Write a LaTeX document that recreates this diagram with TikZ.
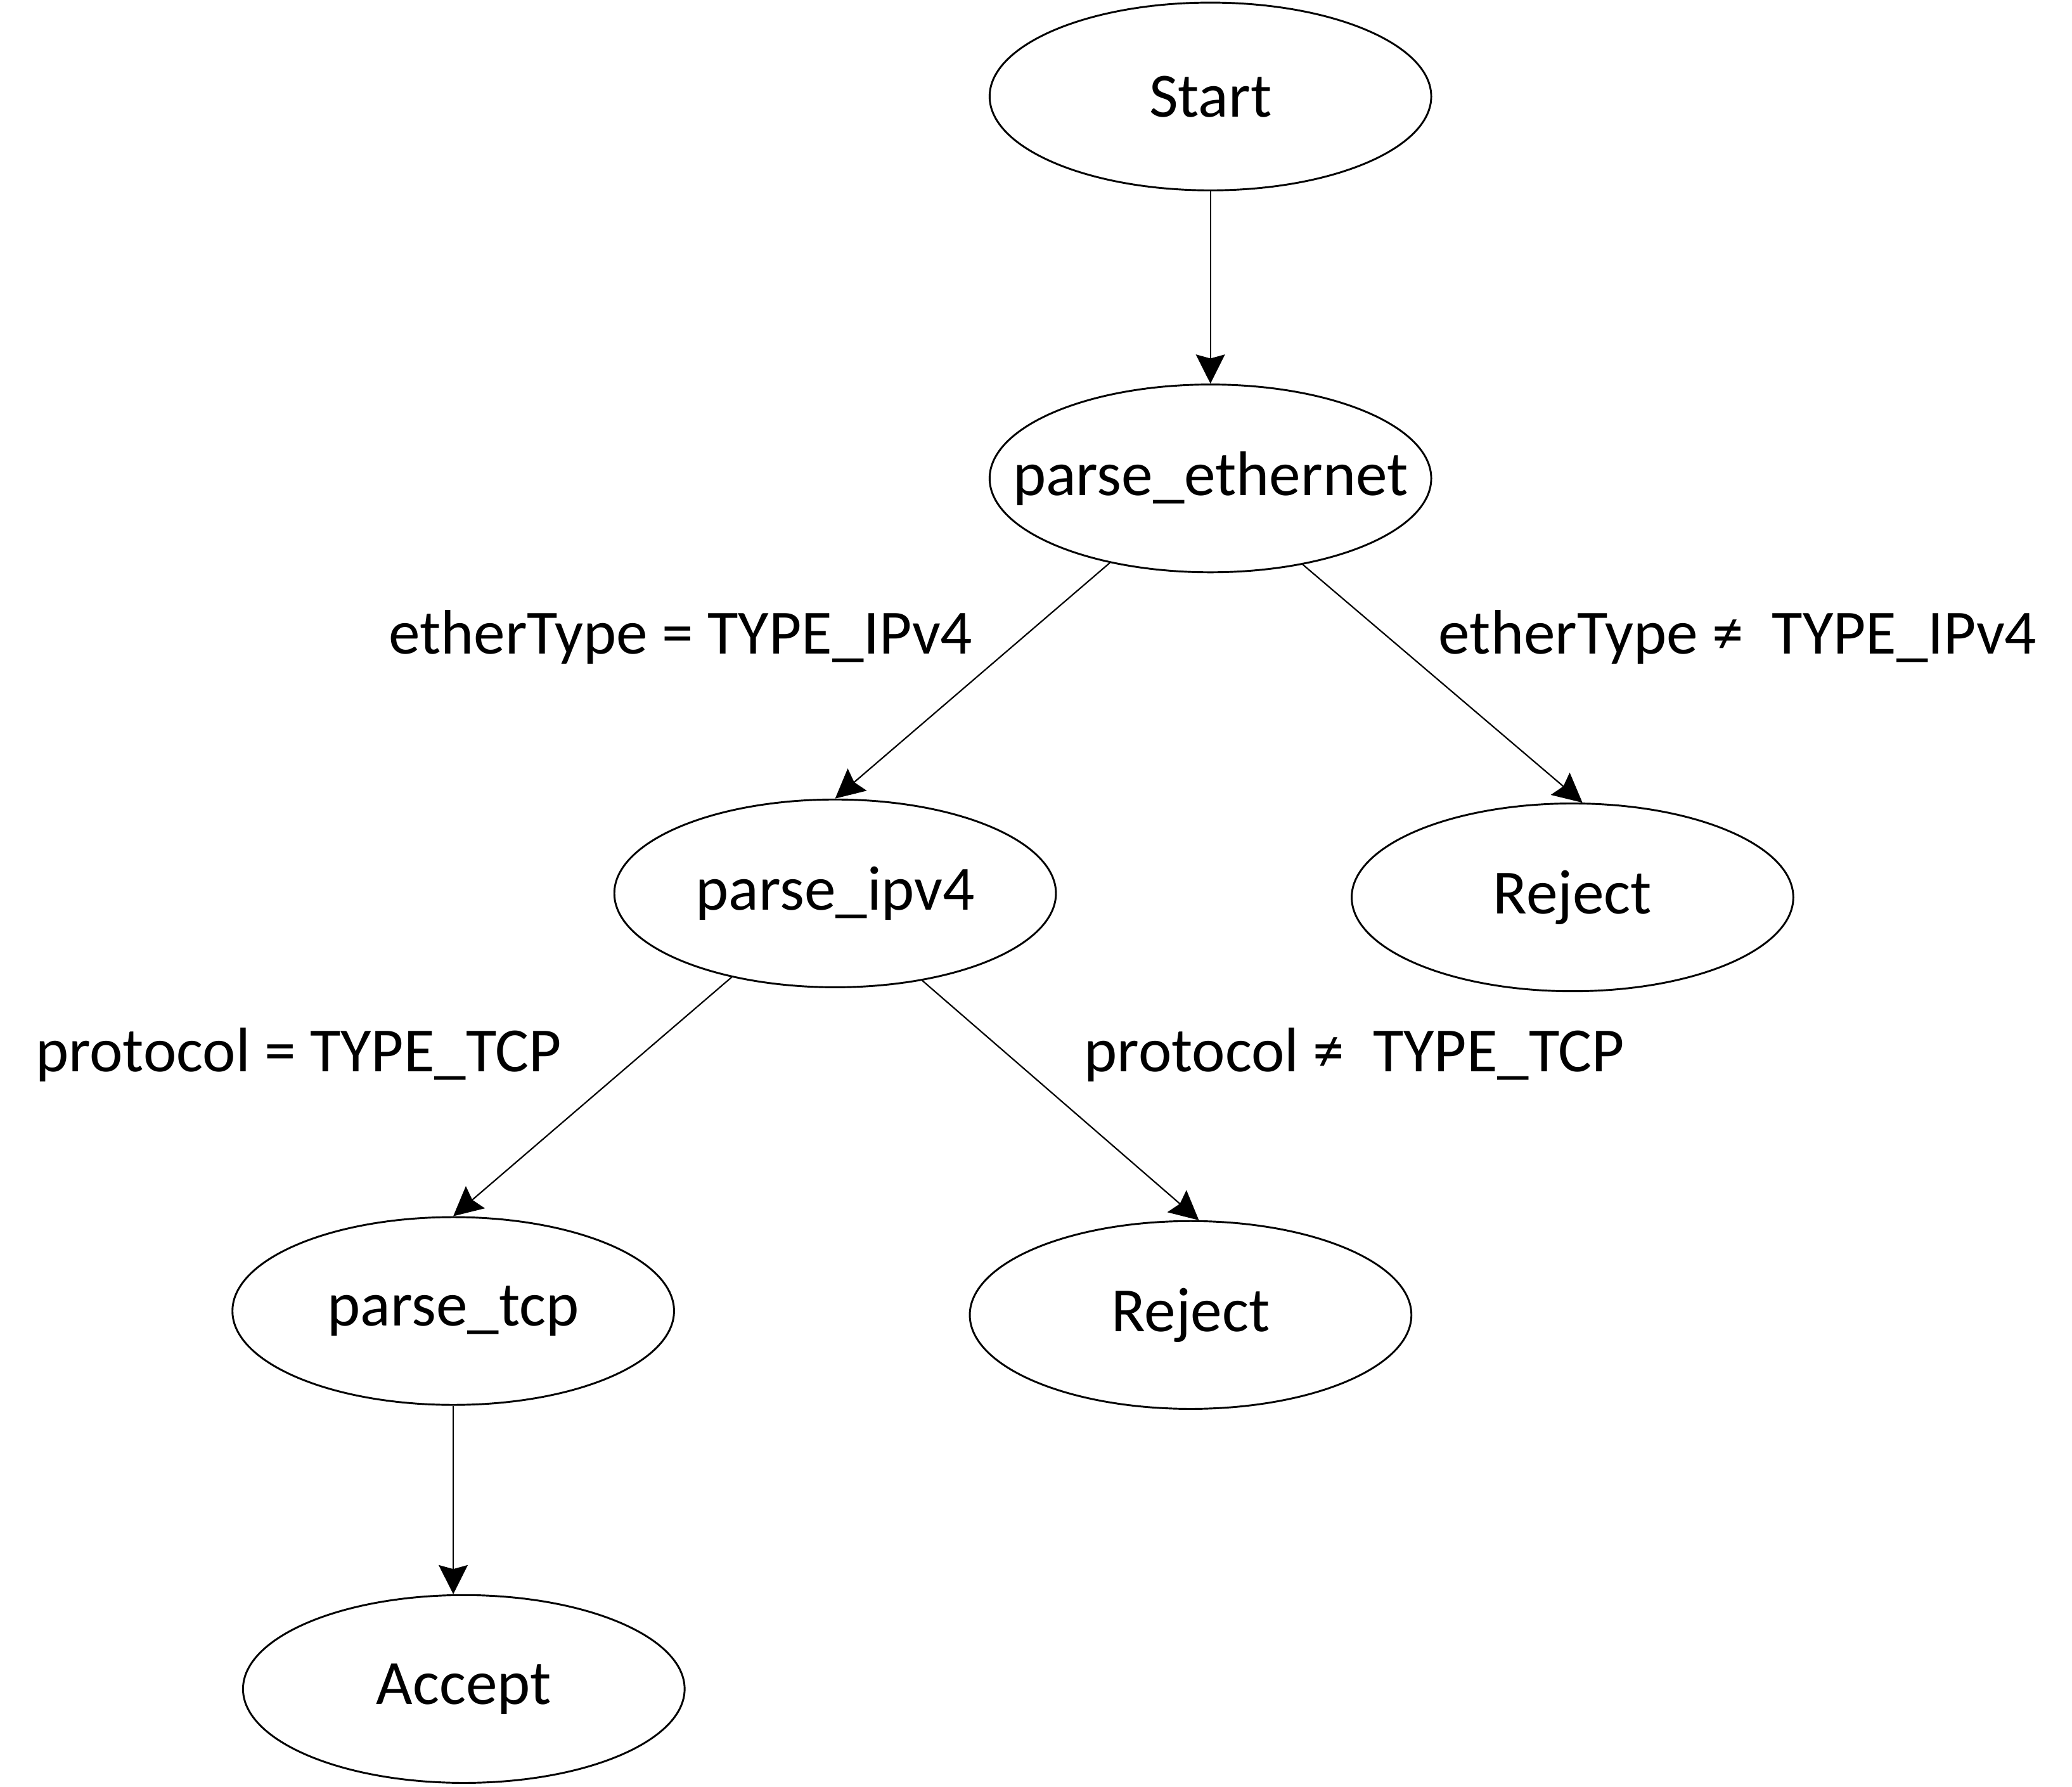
\documentclass[tikz,border=0pt]{standalone}
\usepackage{fontspec}
\setmainfont{Carlito}
\usetikzlibrary{shapes.geometric,arrows.meta}
% keep the label from widening the ellipse
\newcommand\ctext[1]{\makebox[0pt]{#1}}
\begin{document}
\begin{tikzpicture}[x=0.01cm,y=-0.01cm,
  font=\fontsize{13.55}{16}\selectfont,
  state/.style={ellipse,draw,line width=0.4pt,minimum width=3.34cm,minimum height=1.42cm,inner sep=0pt},
  edgelabel/.style={inner sep=0pt},
  flow/.style={line width=0.3pt,-{Stealth[length=0.22cm,width=0.22cm,inset=0.03cm]}}]
\useasboundingbox (0,0) rectangle (1568,1352);

% parser states
\node[state] (start)  at (916,73)   {\ctext{Start}};
\node[state] (pe)     at (916,362)  {\ctext{parse\_ethernet}};
\node[state] (ipv4)   at (632,676)  {\ctext{parse\_ipv4}};
\node[state] (rejA)   at (1190,679) {\ctext{Reject}};
\node[state] (tcp)    at (343,992)  {\ctext{parse\_tcp}};
\node[state] (rejB)   at (901,995)  {\ctext{Reject}};
\node[state] (accept) at (351,1278) {\ctext{Accept}};

% transition conditions
\node[edgelabel] (condA) at (515,482)  {etherType = TYPE\_IPv4};
\node[edgelabel] (condB) at (1315,482) {etherType ≠~ TYPE\_IPv4};
\node[edgelabel] (condC) at (226,798)  {protocol = TYPE\_TCP};
\node[edgelabel] (condD) at (1025,798) {protocol ≠~ TYPE\_TCP};

% transitions
\draw[flow] (start.south) -- (pe.north);
\draw[flow] (pe.220.5) -- (ipv4.north);
\draw[flow] (pe.317.5) -- (rejA.84);
\draw[flow] (ipv4.219) -- (tcp.north);
\draw[flow] (ipv4.315) -- (rejB.85);
\draw[flow] (tcp.south) -- (tcp.south |- accept.north);
\end{tikzpicture}
\end{document}
